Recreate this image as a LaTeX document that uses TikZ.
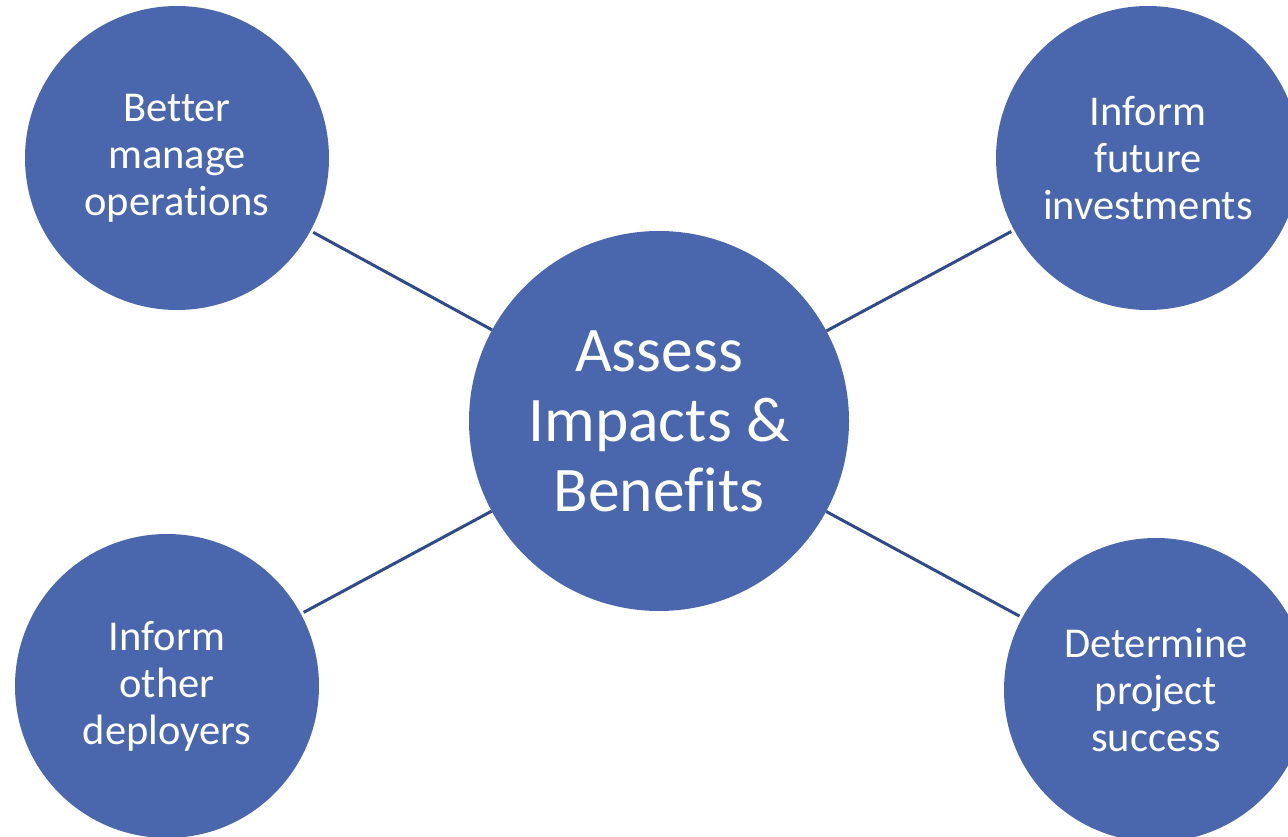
\documentclass[tikz,border=0pt]{standalone}
\usepackage{fontspec}
\setmainfont[Ligatures=CommonOff]{Carlito}
\definecolor{discblue}{HTML}{4A67AD}
\definecolor{linkblue}{HTML}{2F4B8B}
\begin{document}
\begin{tikzpicture}[x=1pt, y=-1pt]
    \tikzstyle{link} = [line width = 3pt, draw = linkblue]
    \tikzstyle{hub} = [circle, minimum size = 380pt, inner sep = 0pt, fill = discblue, text = white, align = center, font = \fontsize{63.5}{70}\selectfont]
    \tikzstyle{goal} = [circle, minimum size = 304pt, inner sep = 0pt, fill = discblue, text = white, align = center, font = \fontsize{42.5}{47}\selectfont]
    \useasboundingbox (0,0) rectangle (1288,837);
    \clip (0,0) rectangle (1288,837);
    \node[hub](C) at (659,421){Assess\\Impacts \&\\Benefits};
    \node[goal](G1) at (177,158){Better\\manage\\operations};
    \node[goal](G2) at (1148,158){Inform\\future\\investments};
    \node[goal](G3) at (167,686){Inform\\other\\deployers};
    \node[goal](G4) at (1156,690){Determine\\project\\success};

    \draw[link, shorten <= 3pt] (G1)--(C);
    \draw[link, shorten <= 3pt] (G2)--(C);
    \draw[link, shorten <= 3pt] (G3)--(C);
    \draw[link, shorten <= 3pt] (G4)--(C);
\end{tikzpicture}
\end{document}
